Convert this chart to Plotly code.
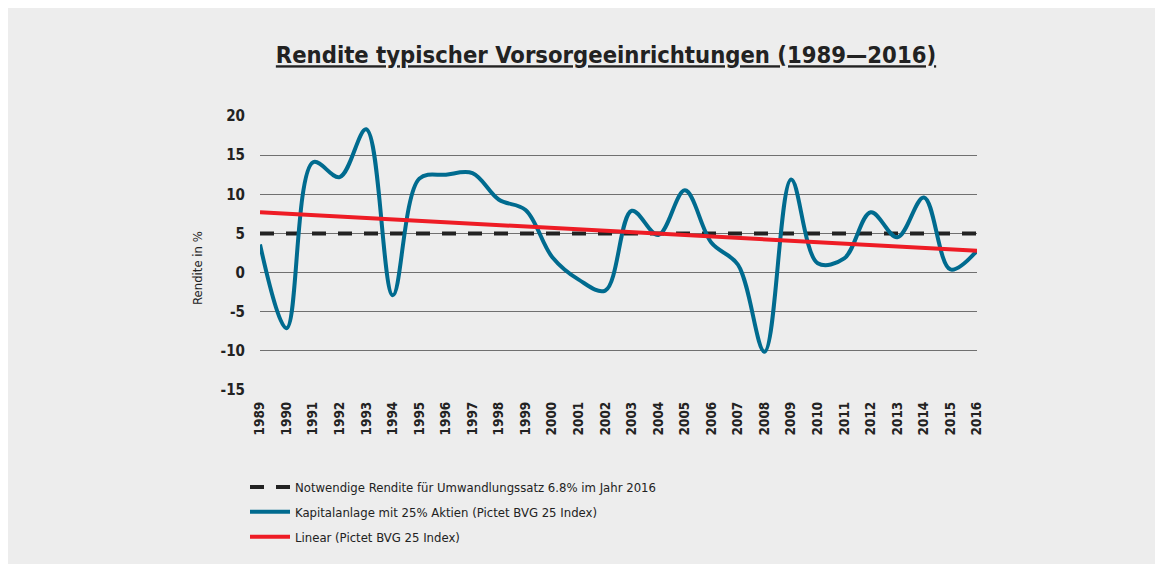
import plotly.graph_objects as go

# ---- data ----
years = list(range(1989, 2017))
year_labels = [str(y) for y in years]
returns_bvg25 = [3.6, -7.1, 14.1, 12.2, 18.3, -2.9, 12.0, 12.5, 12.7, 9.3,
                 8.0, 2.0, -0.9, -2.3, 7.9, 4.8, 10.5, 3.8, 1.0, -10.1,
                 11.9, 1.2, 1.8, 7.7, 4.5, 9.6, 0.4, 2.8]
required_years = [1989, 2016]
required_return = [5.0, 5.0]
trend_years = [1989, 2016]
trend_values = [7.7, 2.8]
y_ticks = [20, 15, 10, 5, 0, -5, -10, -15]
y_tick_labels = ["20", "15", "10", "5", "0", "-5", "-10", "-15"]

name_required = "Notwendige Rendite für Umwandlungssatz 6.8% im Jahr 2016"
name_bvg = "Kapitalanlage mit 25% Aktien (Pictet BVG 25 Index)"
name_trend = "Linear (Pictet BVG 25 Index)"

FONT = "DejaVu Sans Condensed, DejaVu Sans, sans-serif"
BG = "#ededed"
INK = "#222222"

# the page keeps its default 8px body margin: figure px = page px - 8
W, H = 1200, 600
ML, MT = 252, 108
PW, PH = 717, 274
MR = W - ML - PW
MB = H - MT - PH

fig = go.Figure()
fig.add_trace(go.Scatter(
    x=required_years, y=required_return, mode="lines", name=name_required,
    legendgroup="a",
    line=dict(color=INK, width=4, dash="14px,12px"),
))
fig.add_trace(go.Scatter(
    x=years, y=returns_bvg25, mode="lines", name=name_bvg,
    legendgroup="b",
    line=dict(color="#006b8f", width=4, shape="spline", smoothing=1.0),
))
fig.add_trace(go.Scatter(
    x=trend_years, y=trend_values, mode="lines", name=name_trend,
    legendgroup="c",
    line=dict(color="#ee1c25", width=4),
))

fig.update_layout(
    width=W, height=H,
    margin=dict(l=ML, r=MR, t=MT, b=MB, autoexpand=False),
    paper_bgcolor=BG,
    plot_bgcolor=BG,
    font=dict(family=FONT, color=INK),
    title=dict(
        text="Rendite typischer Vorsorgeeinrichtungen (1989—2016)",
        x=598 / W, xanchor="center", y=1 - 47 / H, yanchor="middle",
        font=dict(family=FONT, size=23.6, weight="bold", color=INK,
                  lineposition="under"),
    ),
    xaxis=dict(
        range=[1989, 2016], tickmode="array", tickvals=years, ticktext=year_labels,
        tickangle=-90, showgrid=False, zeroline=False, showline=False,
        ticks="", ticklabelstandoff=8,
        tickfont=dict(family=FONT, size=13.5, weight="bold", color=INK),
    ),
    yaxis=dict(
        range=[-15, 20], tickmode="array", tickvals=y_ticks, ticktext=y_tick_labels,
        showgrid=True, gridcolor="#707070", gridwidth=1.3,
        zeroline=False, showline=False, ticks="", ticklabelstandoff=14,
        tickfont=dict(family=FONT, size=15, weight="bold", color=INK),
    ),
    annotations=[dict(
        text="Rendite in %", textangle=-90, showarrow=False,
        xref="paper", yref="paper",
        x=(197 - 8 - ML) / PW, y=(MT + PH - (268 - 8)) / PH,
        xanchor="center", yanchor="middle",
        font=dict(family=FONT, size=13, color=INK),
    )],
    legend=dict(
        x=(237 - ML) / PW, y=(MT + PH - 464) / PH, xanchor="left", yanchor="top",
        bgcolor="rgba(0,0,0,0)", font=dict(family=FONT, size=13, color=INK),
        tracegroupgap=5, itemwidth=40,
    ),
    showlegend=True,
)

fig.write_html("out.html", config={"displayModeBar": False})
